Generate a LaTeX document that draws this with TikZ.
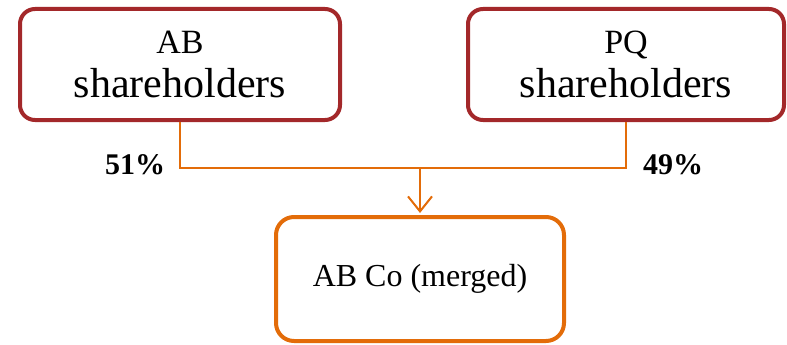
\documentclass[tikz,border=0pt]{standalone}
\usepackage{fontspec}
\setmainfont{Liberation Serif}
\usetikzlibrary{arrows.meta}
\definecolor{boxred}{HTML}{A3282A}
\definecolor{boxorange}{HTML}{E36C09}
\begin{document}
\begin{tikzpicture}[x=1pt,y=-1pt,
  ownerbox/.style={draw=boxred, line width=4pt, rounded corners=15pt, fill=white,
    minimum width=320pt, minimum height=111pt, inner sep=0pt, align=center,
    font=\fontsize{42}{44}\selectfont},
  mergedbox/.style={draw=boxorange, line width=4pt, rounded corners=18pt, fill=white,
    minimum width=288pt, minimum height=124pt, inner sep=0pt, align=center,
    font=\fontsize{32}{38}\selectfont},
  link/.style={draw=boxorange, line width=2pt},
  pct/.style={font=\fontsize{30}{32}\selectfont\bfseries, inner sep=0pt}]
\useasboundingbox (0,0) rectangle (787,345);
\node[ownerbox] (ab) at (180,64.5) {{\fontsize{34}{34}\selectfont AB}\\shareholders};
\node[ownerbox, minimum width=316pt] (pq) at (626,64.5) {{\fontsize{34}{34}\selectfont PQ}\\shareholders};
\node[mergedbox] (co) at (420,279) {AB Co (merged)};
\coordinate (join) at (420,168);
\draw[link] (ab.south) |- (join);
\draw[link] (pq.south) |- (join);
\draw[link, -{Straight Barb[length=15pt,width=24pt]}] (join) -- ([yshift=2pt]co.north);
\node[pct] (p51) at (135,165) {51\%};
\node[pct] (p49) at (673,165) {49\%};
\end{tikzpicture}
\end{document}
